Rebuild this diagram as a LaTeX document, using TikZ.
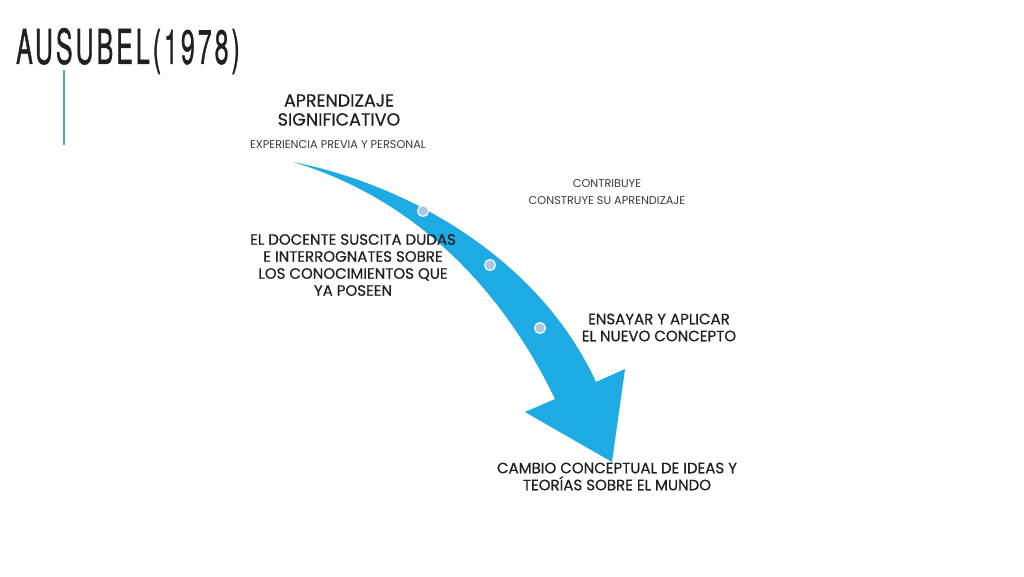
\documentclass[tikz,border=0pt]{standalone}
\usepackage{fontspec}
\setmainfont{Poppins}
\newfontfamily\medfont[FakeBold=0.6]{Poppins}
\newfontfamily\titlefont[LetterSpace=12,FakeBold=1.2]{TeX Gyre Heros}
\definecolor{arrowblue}{HTML}{1EAAE2}
\definecolor{linecol}{HTML}{45A7C6}
\definecolor{dotfill}{HTML}{A9C8E6}
\definecolor{txt}{HTML}{202020}
\definecolor{txtsmall}{HTML}{3A3A3A}
\tikzset{
  lbl/.style={text=txt, align=center, inner sep=0pt},
  big/.style={lbl, font={\medfont\fontsize{15}{17}\selectfont}},
  small/.style={lbl, text=txtsmall, font={\fontsize{11.3}{17}\selectfont}},
  dotc/.style={circle, fill=dotfill, draw=white, line width=1.2pt, minimum size=11pt, inner sep=0pt}
}
\begin{document}
\begin{tikzpicture}[x=1pt,y=-1pt]
\useasboundingbox (0,0) rectangle (1024,576);
\fill[white] (0,0) rectangle (1024,576);
% title
\node[lbl, anchor=center] (title) at (128,51) {\scalebox{0.52}[1]{\titlefont\fontsize{48}{48}\selectfont AUSUBEL(1978)}};
\coordinate (lt) at (64,70);
\coordinate (lb) at (64,145);
\draw[linecol, line width=2pt] (lt) -- (lb);
% arrow
\fill[arrowblue] (293,162) .. controls (410,185) and (540,260) .. (596,382)
  -- (625,369) -- (612,462) -- (525,412) -- (555,399)
  .. controls (505,295) and (420,200) .. (293,162) -- cycle;
\node[dotc] (d1) at (423,211) {};
\node[dotc] (d2) at (490,265) {};
\node[dotc] (d3) at (540,328) {};
% texts
\node[big, font={\medfont\fontsize{17.5}{19}\selectfont}] (ap) at (339,110) {APRENDIZAJE\\SIGNIFICATIVO};
\node[small] (exp) at (338,145) {EXPERIENCIA PREVIA Y PERSONAL};
\node[small] (con) at (607,192.5) {CONTRIBUYE\\CONSTRUYE SU APRENDIZAJE};
\node[big] (doc) at (353,265) {EL DOCENTE SUSCITA DUDAS\\E INTERROGNATES SOBRE\\LOS CONOCIMIENTOS QUE\\YA POSEEN};
\node[big] (ens) at (659,327.5) {ENSAYAR Y APLICAR\\EL NUEVO CONCEPTO};
\node[big] (cam) at (617,476.5) {CAMBIO CONCEPTUAL DE IDEAS Y\\TEORÍAS SOBRE EL MUNDO};
\end{tikzpicture}
\end{document}
